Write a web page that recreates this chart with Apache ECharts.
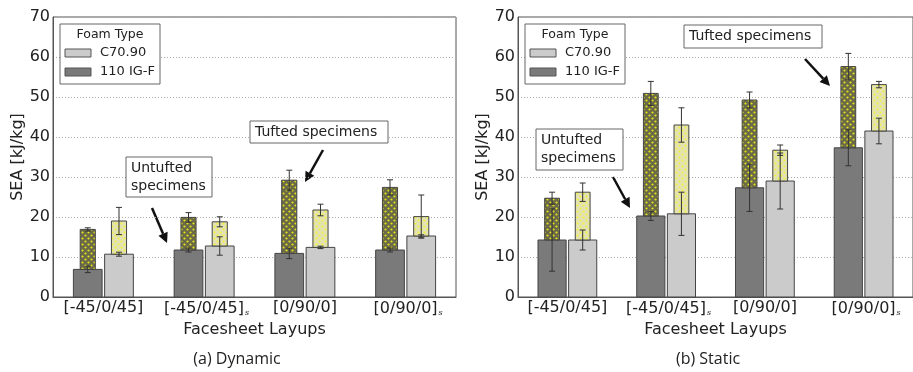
<!DOCTYPE html>
<html lang="en">
<head>
	<meta charset="UTF-8">
	<title>SEA</title>
	<script src="https://cdn.jsdelivr.net/npm/echarts@6/dist/echarts.min.js"></script>
</head>
<body style="margin:0">
	<div id="app" style="width: 913px;height:372px"></div>

	<script>
		// categories and tick labels
		var categories = ['[-45/0/45]', '[-45/0/45]s', '[0/90/0]', '[0/90/0]s'];
		var yTicks = [0, 10, 20, 30, 40, 50, 60, 70];

		// (a) Dynamic
		var dynIgfBase = [6.9, 11.75, 10.9, 11.75];
		var dynIgfBaseErr = [0.8, 0.5, 1.3, 0.5];
		var dynIgfTuft = [16.9, 19.9, 29.2, 27.4];
		var dynIgfTuftErr = [0.4, 1.2, 2.5, 1.9];
		var dynC70Base = [10.7, 12.75, 12.4, 15.25];
		var dynC70BaseErr = [0.5, 2.3, 0.3, 0.3];
		var dynC70Tuft = [19.0, 18.8, 21.75, 20.1];
		var dynC70TuftErr = [3.4, 1.25, 1.45, 5.4];

		// (b) Static
		var staIgfBase = [14.25, 20.25, 27.3, 37.3];
		var staIgfBaseErr = [7.8, 1.1, 5.9, 4.5];
		var staIgfTuft = [24.7, 50.9, 49.25, 57.6];
		var staIgfTuftErr = [1.5, 3.0, 2.0, 3.3];
		var staC70Base = [14.25, 20.8, 29.0, 41.5];
		var staC70BaseErr = [2.5, 5.4, 7.0, 3.2];
		var staC70Tuft = [26.2, 43.0, 36.7, 53.1];
		var staC70TuftErr = [2.3, 4.3, 1.3, 0.8];

		var FONT = 'DejaVu Sans';

		// dotted fill for the tufted part
		function dots(bg, dot) {
			var c = document.createElement('canvas');
			c.width = 6; c.height = 6;
			var ctx = c.getContext('2d');
			ctx.fillStyle = bg;
			ctx.fillRect(0, 0, 6, 6);
			ctx.fillStyle = dot;
			[[1.5, 1.5], [4.5, 4.5]].forEach(function (p) {
				ctx.beginPath();
				ctx.arc(p[0], p[1], 1.1, 0, Math.PI * 2);
				ctx.fill();
			});
			return { image: c, repeat: 'repeat' };
		}
		var darkDots = dots('#6b6a48', '#e4e41e');
		var lightDots = dots('#e2e2b4', '#f2f23a');

		function errBar(x, yLo, yHi) {
			return [
				{ type: 'line', shape: { x1: x, y1: yLo, x2: x, y2: yHi }, style: { stroke: '#333', lineWidth: 1 }, z2: 5 },
				{ type: 'line', shape: { x1: x - 3, y1: yLo, x2: x + 3, y2: yLo }, style: { stroke: '#333', lineWidth: 1 }, z2: 5 },
				{ type: 'line', shape: { x1: x - 3, y1: yHi, x2: x + 3, y2: yHi }, style: { stroke: '#333', lineWidth: 1 }, z2: 5 }
			];
		}

		function makeSeries(idx, name, side, base, baseErr, tuft, tuftErr, color, pattern) {
			return {
				type: 'custom',
				name: name,
				xAxisIndex: idx,
				yAxisIndex: idx,
				data: categories.map(function (c, i) {
					return [i, base[i], baseErr[i], tuft[i], tuftErr[i]];
				}),
				encode: { x: 0, y: [1, 3] },
				renderItem: function (params, api) {
					var i = api.value(0);
					var band = api.size([1, 0])[0];
					var p0 = api.coord([i, 0]);
					var cx = p0[0] + side * band * 0.155;
					var w = band * 0.285, tw = band * 0.15;
					var yB = api.coord([i, api.value(1)])[1];
					var yT = api.coord([i, api.value(3)])[1];
					var children = [
						{ type: 'rect', shape: { x: cx - w / 2, y: yB, width: w, height: p0[1] - yB }, style: { fill: color, stroke: '#444', lineWidth: 1 } },
						{ type: 'rect', shape: { x: cx - tw / 2, y: yT, width: tw, height: yB - yT }, style: { fill: pattern, stroke: '#444', lineWidth: 1 } }
					];
					var be = api.value(2), te = api.value(4);
					children = children.concat(errBar(cx, api.coord([i, api.value(1) - be])[1], api.coord([i, api.value(1) + be])[1]));
					children = children.concat(errBar(cx, api.coord([i, api.value(3) - te])[1], api.coord([i, api.value(3) + te])[1]));
					return { type: 'group', children: children };
				}
			};
		}

		function xAxisFor(idx) {
			return {
				type: 'category',
				gridIndex: idx,
				data: categories,
				name: 'Facesheet Layups',
				nameLocation: 'middle',
				nameGap: 23,
				nameTextStyle: { fontFamily: FONT, fontSize: 16, color: '#222' },
				axisLine: { lineStyle: { color: '#555' } },
				axisTick: { inside: true, alignWithLabel: true, length: 4, lineStyle: { color: '#555' } },
				axisLabel: {
					interval: 0,
					hideOverlap: false,
					margin: 3,
					fontFamily: FONT, fontSize: 16, color: '#222',
					formatter: function (v) {
						// subscript s, padded on the left so the bracket text stays centred
						return v.charAt(v.length - 1) === 's' ? '{p|}' + v.slice(0, -1) + '{s|s}' : v;
					},
					rich: {
						p: { width: 5 },
						s: { fontFamily: 'DejaVu Serif', fontSize: 8, fontStyle: 'italic', color: '#222', padding: [9, 0, 0, 1] }
					}
				}
			};
		}

		function yAxisFor(idx) {
			return {
				type: 'value',
				gridIndex: idx,
				min: yTicks[0],
				max: yTicks[yTicks.length - 1],
				interval: 10,
				name: 'SEA [kJ/kg]',
				nameLocation: 'middle',
				nameGap: 27,
				nameTextStyle: { fontFamily: FONT, fontSize: 16, color: '#222' },
				axisLine: { show: true, lineStyle: { color: '#555' } },
				axisTick: { show: false },
				axisLabel: { margin: 3, fontFamily: FONT, fontSize: 16, color: '#222' },
				splitLine: { lineStyle: { color: '#aaa', type: [1, 2] } }
			};
		}

		function arrow(x1, y1, x2, y2) {
			var a = Math.atan2(y2 - y1, x2 - x1), L = 10, H = 5;
			var bx = x2 - L * Math.cos(a), by = y2 - L * Math.sin(a);
			return [
				{ type: 'line', shape: { x1: x1, y1: y1, x2: bx, y2: by }, style: { stroke: '#111', lineWidth: 2.5 } },
				{ type: 'polygon', shape: { points: [[x2, y2], [bx + H * Math.sin(a), by - H * Math.cos(a)], [bx - H * Math.sin(a), by + H * Math.cos(a)]] }, style: { fill: '#111' } }
			];
		}

		function box(x, y, w, h, text) {
			return [
				{ type: 'rect', shape: { x: x, y: y, width: w, height: h }, style: { fill: '#fff', stroke: '#666', lineWidth: 1 }, z: 10 },
				{ type: 'text', x: x + 5, y: y + h / 2, style: { text: text, fontFamily: FONT, fontSize: 14, lineHeight: 18, fill: '#222', verticalAlign: 'middle' }, z: 11 }
			];
		}

		function legend(x, y) {
			return [
				{ type: 'rect', shape: { x: x, y: y, width: 100, height: 60 }, style: { fill: '#fff', stroke: '#666', lineWidth: 1 }, z: 10 },
				{ type: 'text', x: x + 50, y: y + 11, style: { text: 'Foam Type', fontFamily: FONT, fontSize: 12.5, fill: '#222', align: 'center', verticalAlign: 'middle' }, z: 11 },
				{ type: 'rect', shape: { x: x + 5, y: y + 25, width: 26, height: 8 }, style: { fill: '#cbcbcb', stroke: '#555', lineWidth: 1 }, z: 11 },
				{ type: 'text', x: x + 40, y: y + 29, style: { text: 'C70.90', fontFamily: FONT, fontSize: 13, fill: '#222', verticalAlign: 'middle' }, z: 11 },
				{ type: 'rect', shape: { x: x + 5, y: y + 44, width: 26, height: 8 }, style: { fill: '#7a7a7a', stroke: '#555', lineWidth: 1 }, z: 11 },
				{ type: 'text', x: x + 40, y: y + 48, style: { text: '110 IG-F', fontFamily: FONT, fontSize: 13, fill: '#222', verticalAlign: 'middle' }, z: 11 }
			];
		}

		var graphics = []
			.concat(legend(60, 24), legend(525, 24))
			.concat(box(126, 157, 86, 40, 'Untufted\nspecimens'), arrow(152, 208, 167, 243))
			.concat(box(250, 121, 138, 22, 'Tufted specimens'), arrow(323, 150, 305, 182))
			.concat(box(684, 25, 138, 23, 'Tufted specimens'), arrow(805, 59, 830, 86))
			.concat(box(536, 129, 87, 41, 'Untufted\nspecimens'), arrow(613, 177, 630, 208))
			.concat([
				{ type: 'text', x: 237, y: 359, style: { text: '(a) Dynamic', fontFamily: 'Open Sans', fontSize: 16, fill: '#222', align: 'center', verticalAlign: 'middle' } },
				{ type: 'text', x: 708, y: 359, style: { text: '(b) Static', fontFamily: 'Open Sans', fontSize: 16, fill: '#222', align: 'center', verticalAlign: 'middle' } }
			]);

		var myChart = echarts.init(document.getElementById('app'));
		var option = {
			animation: false,
			backgroundColor: '#fff',
			grid: [
				{ left: 53, top: 17, width: 403, height: 280, show: true, borderColor: '#555', borderWidth: 1 },
				{ left: 518, top: 17, width: 402, height: 280, show: true, borderColor: '#555', borderWidth: 1 }
			],
			xAxis: [xAxisFor(0), xAxisFor(1)],
			yAxis: [yAxisFor(0), yAxisFor(1)],
			series: [
				makeSeries(0, '110 IG-F', -1, dynIgfBase, dynIgfBaseErr, dynIgfTuft, dynIgfTuftErr, '#7a7a7a', darkDots),
				makeSeries(0, 'C70.90', 1, dynC70Base, dynC70BaseErr, dynC70Tuft, dynC70TuftErr, '#cbcbcb', lightDots),
				makeSeries(1, '110 IG-F', -1, staIgfBase, staIgfBaseErr, staIgfTuft, staIgfTuftErr, '#7a7a7a', darkDots),
				makeSeries(1, 'C70.90', 1, staC70Base, staC70BaseErr, staC70Tuft, staC70TuftErr, '#cbcbcb', lightDots)
			],
			graphic: graphics
		};
		myChart.setOption(option);
	</script>
</body>
</html>
